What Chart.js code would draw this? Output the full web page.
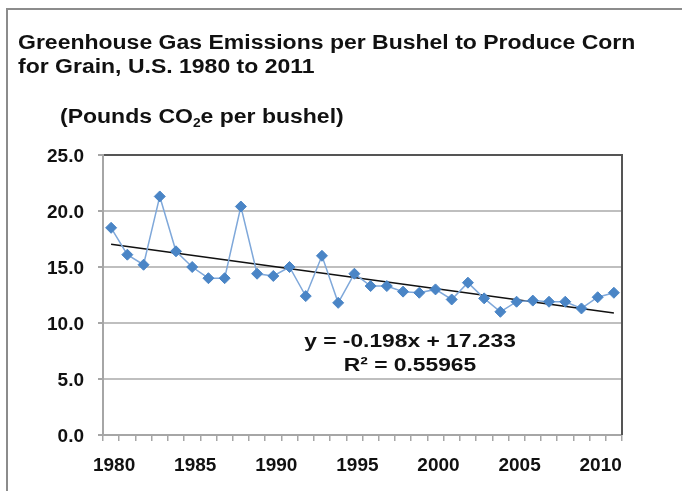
<!DOCTYPE html>
<html>
<head>
<meta charset="utf-8">
<script src="https://cdn.jsdelivr.net/npm/chart.js@4.4.1/dist/chart.umd.min.js"></script>
<style>
  body { margin: 0; background: #fff; }
  #wrap { position: relative; width: 682px; height: 491px; overflow: hidden; }
  #frame { position: absolute; left: 6px; top: 8px; width: 700px; height: 500px;
           border-top: 2px solid #8c8c8c; border-left: 2px solid #8c8c8c; }
  #myChart { position: absolute; left: 0; top: 0; }
  .txt { position: absolute; font-family: 'Liberation Sans', Arial, sans-serif; font-weight: bold;
         color: #111; white-space: nowrap; line-height: 24px; }
  #title { left: 18px; top: 30px; font-size: 20px; transform: scaleX(1.15); transform-origin: left top; }
  #unit { left: 60px; top: 104px; font-size: 20px; transform: scaleX(1.15); transform-origin: left top; }
  #unit span { font-size: 12px; position: relative; top: 4px; }
  #eq { left: 260px; top: 329px; width: 300px; text-align: center; font-size: 19px;
        transform: scaleX(1.2); transform-origin: center top; }
</style>
</head>
<body>
<div id="wrap">
  <div id="frame"></div>
  <canvas id="myChart" width="682" height="491"></canvas>
  <div class="txt" id="title">Greenhouse Gas Emissions per Bushel to Produce Corn<br>for Grain, U.S. 1980 to 2011</div>
  <div class="txt" id="unit">(Pounds CO<span>2</span>e per bushel)</div>
  <div class="txt" id="eq">y = -0.198x + 17.233<br>R² = 0.55965</div>
</div>
<script>
// years on the category axis
const years = ['1980', '1981', '1982', '1983', '1984', '1985', '1986', '1987',
               '1988', '1989', '1990', '1991', '1992', '1993', '1994', '1995',
               '1996', '1997', '1998', '1999', '2000', '2001', '2002', '2003',
               '2004', '2005', '2006', '2007', '2008', '2009', '2010', '2011'];
// pounds CO2e per bushel
const emissions = [18.5, 16.1, 15.2, 21.3, 16.4, 15.0, 14.0, 14.0,
                   20.4, 14.4, 14.2, 15.0, 12.4, 16.0, 11.8, 14.4,
                   13.3, 13.3, 12.8, 12.7, 13.0, 12.1, 13.6, 12.2,
                   11.0, 11.9, 12.0, 11.9, 11.9, 11.3, 12.3, 12.7];
// linear trend, read at both ends
const trendYears = ['1980', '2011'];
const trendValues = [17.03, 10.90];
const yTicks = [0, 5, 10, 15, 20, 25];

const tickFont = { family: "'Liberation Sans', Arial, sans-serif", weight: 'bold', size: 19 };

// dark border on the right side of the plot
const plotBorder = {
    id: 'plotBorder',
    beforeDatasetsDraw(chart) {
        const a = chart.chartArea;
        const ctx = chart.ctx;
        ctx.save();
        ctx.strokeStyle = '#555';
        ctx.lineWidth = 2;
        ctx.beginPath();
        ctx.moveTo(a.right, a.top - 1);
        ctx.lineTo(a.right, a.bottom);
        ctx.stroke();
        ctx.restore();
    }
};

const ctx = document.getElementById('myChart').getContext('2d');
new Chart(ctx, {
    type: 'line',
    data: {
        labels: years,
        datasets: [
            {
                label: 'Emissions',
                data: emissions,
                borderColor: '#7fa8da',
                borderWidth: 1.5,
                pointStyle: 'rectRot',
                pointRadius: 5.5,
                pointBackgroundColor: '#4a85c6',
                pointBorderColor: '#4a85c6',
                pointBorderWidth: 1,
                tension: 0
            },
            {
                label: 'Trend',
                data: trendYears.map((y, i) => ({ x: y, y: trendValues[i] })),
                borderColor: '#111',
                borderWidth: 1.5,
                pointRadius: 0,
                spanGaps: true
            }
        ]
    },
    options: {
        responsive: false,
        animation: false,
        devicePixelRatio: 1,
        layout: { padding: { top: 155, right: 60, bottom: 16, left: 0 } },
        plugins: { legend: { display: false }, tooltip: { enabled: false } },
        scales: {
            x: {
                type: 'category',
                offset: true,
                afterFit: s => { s.height = 40; },
                grid: { offset: true, drawOnChartArea: false, drawTicks: true, tickLength: 6,
                        color: '#a6a6a6', lineWidth: 1.5 },
                border: { color: '#a6a6a6', width: 2 },
                ticks: {
                    autoSkip: false, maxRotation: 0, padding: 13, labelOffset: 3,
                    color: '#111', font: tickFont,
                    callback: (v, i) => (Number(years[i]) % 5 === 0 ? years[i] : '')
                }
            },
            y: {
                min: yTicks[0],
                max: yTicks[yTicks.length - 1],
                afterFit: s => { s.width = 103; },
                afterBuildTicks: s => { s.ticks = yTicks.map(v => ({ value: v })); },
                grid: {
                    color: c => (c.tick && c.tick.value === 25 ? '#555' : '#bfbfbf'),
                    tickColor: '#a6a6a6',
                    lineWidth: 2,
                    tickLength: 5
                },
                border: { color: '#a6a6a6', width: 2 },
                ticks: {
                    padding: 14, labelOffset: 2, color: '#111', font: tickFont,
                    callback: v => Number(v).toFixed(1)
                }
            }
        }
    },
    plugins: [plotBorder]
});
</script>
</body>
</html>
